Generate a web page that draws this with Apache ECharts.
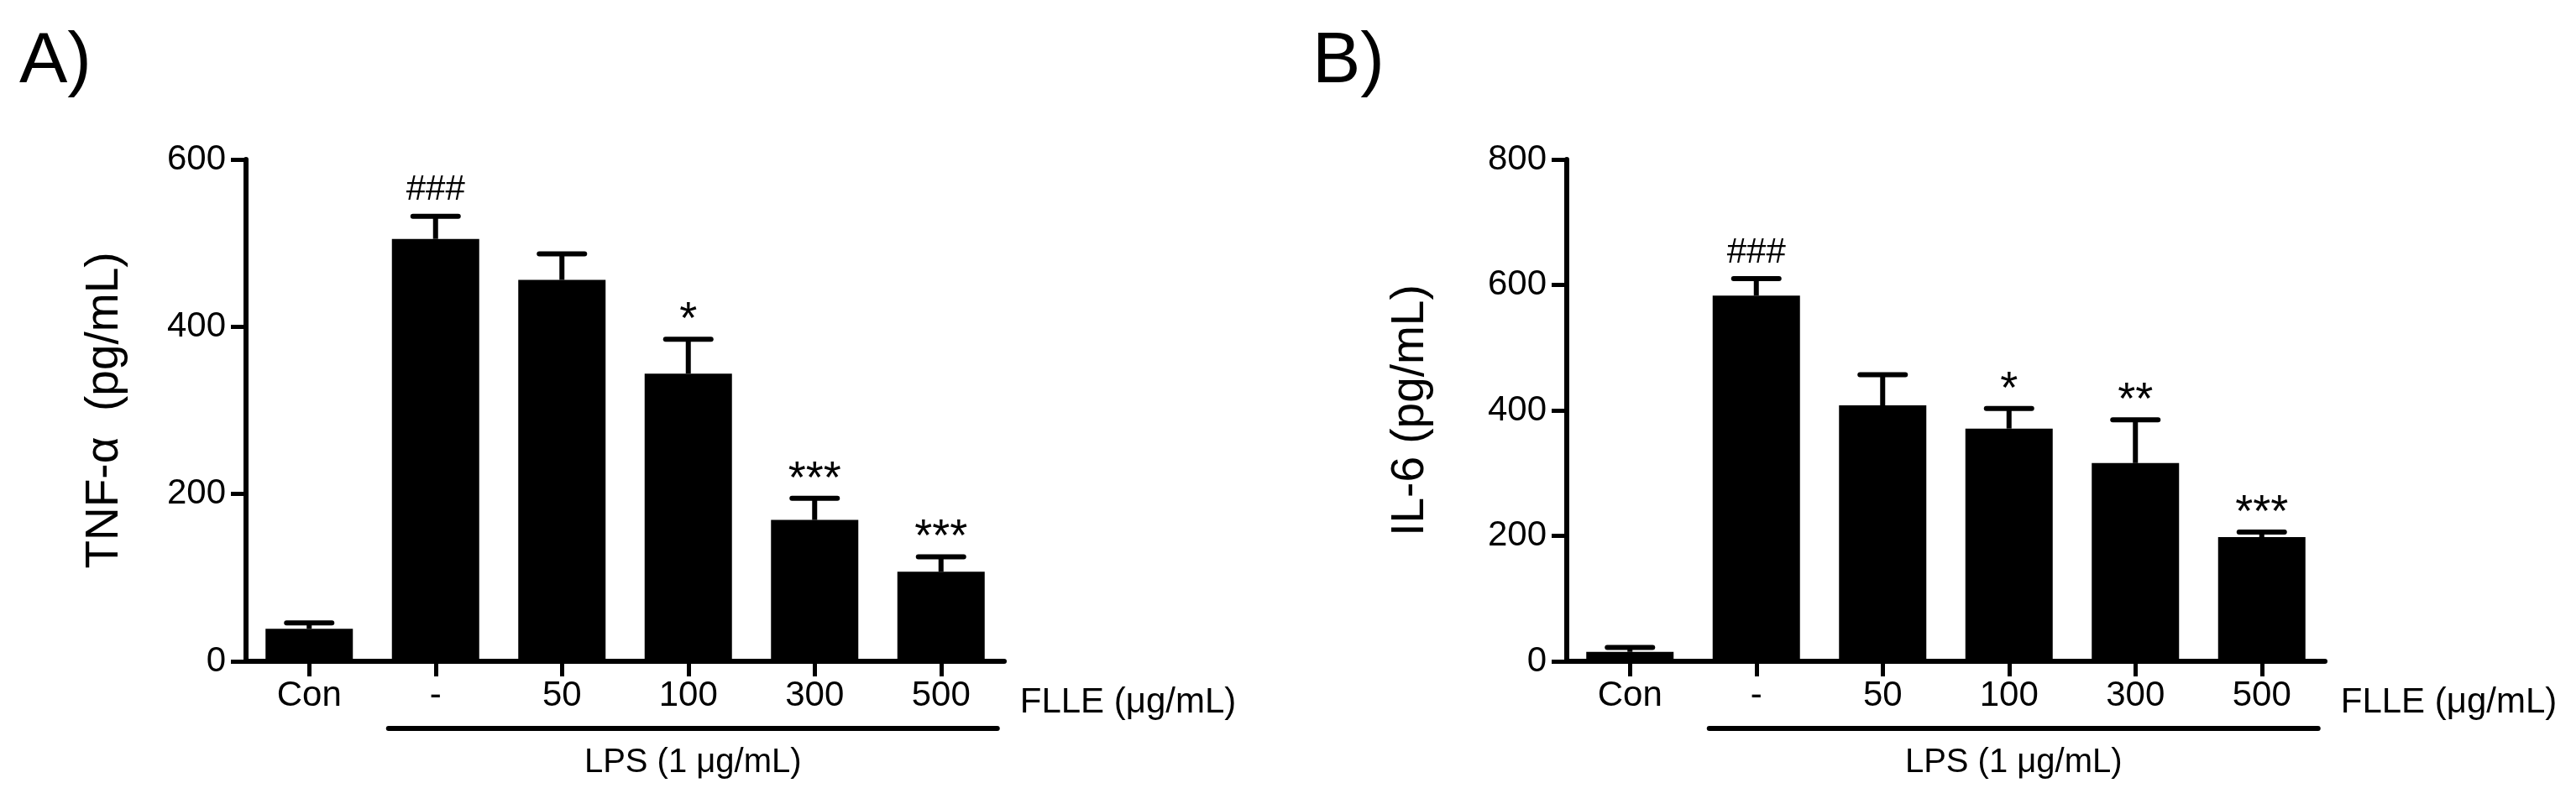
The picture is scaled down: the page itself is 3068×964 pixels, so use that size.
<!DOCTYPE html>
<html>
<head>
<meta charset="utf-8">
<script src="https://cdn.jsdelivr.net/npm/echarts@6/dist/echarts.min.js"></script>
<style>
html, body { margin: 0; padding: 0; background: #fff; }
#chart { width: 3068px; height: 964px; }
</style>
</head>
<body>
<div id="chart"></div>
<script>
// ---- data ----
const categories = ['Con', '-', '50', '100', '300', '500'];
const tnfMean = [39, 505, 456, 344, 169, 107];
const tnfSem  = [7, 27, 31, 41, 26, 18];
const tnfSig  = ['', '###', '', '*', '***', '***'];
const il6Mean = [15, 583, 408, 371, 316, 198];
const il6Sem  = [7, 27, 49, 32, 69, 8];
const il6Sig  = ['', '###', '', '*', '**', '***'];
const tnfAxis = { min: 0, max: 600, interval: 200 };
const il6Axis = { min: 0, max: 800, interval: 200 };
const panelLetters = ['A)', 'B)'];
const yTitles = ['TNF-\u03b1  (pg/mL)', 'IL-6 (pg/mL)'];
const xTitle = 'FLLE (\u03bcg/mL)';
const lpsTitle = 'LPS (1 \u03bcg/mL)';

// ---- style ----
const FONT = '"Liberation Sans", Arial, Helvetica, sans-serif';
const LW = 6;
const BAR_W = 104;

const chart = echarts.init(document.getElementById('chart'), null, { renderer: 'canvas' });

function errRender(sig) {
  return function (params, api) {
    const i = api.value(0), m = api.value(1), s = api.value(2);
    const p0 = api.coord([i, m]);
    const p1 = api.coord([i, m + s]);
    const half = 27;
    const children = [
      { type: 'line', shape: { x1: p0[0], y1: p0[1], x2: p1[0], y2: p1[1] },
        style: { stroke: '#000', lineWidth: LW } },
      { type: 'line', shape: { x1: p1[0] - half, y1: p1[1], x2: p1[0] + half, y2: p1[1] },
        style: { stroke: '#000', lineWidth: LW, lineCap: 'round' } }
    ];
    const lab = sig[params.dataIndex];
    if (lab) {
      const star = lab.indexOf('*') >= 0;
      children.push({ type: 'text', x: p1[0], y: p1[1] - (star ? 22 : 31),
        style: { text: lab, fill: '#000', font: (star ? '54px ' : '42px ') + FONT,
                 align: 'center', verticalAlign: 'middle' } });
    }
    return { type: 'group', children: children };
  };
}

function xAxisDef(gi) {
  return {
    type: 'category', gridIndex: gi, data: categories, boundaryGap: true,
    axisLine: { show: true, lineStyle: { color: '#000', width: LW } },
    axisTick: { show: true, alignWithLabel: true, length: 18, lineStyle: { color: '#000', width: 5 } },
    axisLabel: { color: '#000', fontSize: 42, fontFamily: FONT, margin: 20 },
    splitLine: { show: false }
  };
}
function yAxisDef(gi, ax) {
  return {
    type: 'value', gridIndex: gi, min: ax.min, max: ax.max, interval: ax.interval,
    axisLine: { show: true, lineStyle: { color: '#000', width: LW } },
    axisTick: { show: true, length: 18, lineStyle: { color: '#000', width: 5 } },
    axisLabel: { color: '#000', fontSize: 42, fontFamily: FONT, margin: 24 },
    splitLine: { show: false }
  };
}

const option = {
  backgroundColor: '#fff',
  animation: false,
  grid: [
    { left: 293, top: 190, width: 903, height: 598 },
    { left: 1866, top: 190, width: 903, height: 598 }
  ],
  xAxis: [xAxisDef(0), xAxisDef(1)],
  yAxis: [yAxisDef(0, tnfAxis), yAxisDef(1, il6Axis)],
  series: [
    { type: 'bar', xAxisIndex: 0, yAxisIndex: 0, data: tnfMean, barWidth: BAR_W,
      itemStyle: { color: '#000' }, z: 2 },
    { type: 'custom', xAxisIndex: 0, yAxisIndex: 0, z: 3,
      data: tnfMean.map((v, i) => [i, v, tnfSem[i]]), renderItem: errRender(tnfSig) },
    { type: 'bar', xAxisIndex: 1, yAxisIndex: 1, data: il6Mean, barWidth: BAR_W,
      itemStyle: { color: '#000' }, z: 2 },
    { type: 'custom', xAxisIndex: 1, yAxisIndex: 1, z: 3,
      data: il6Mean.map((v, i) => [i, v, il6Sem[i]]), renderItem: errRender(il6Sig) }
  ]
};
chart.setOption(option);

// ---- annotations placed from the axes ----
const graphics = [];
const yTitleX = [125, 1680];
const letterX = [23, 1563];
[0, 1].forEach(function (gi) {
  const pMinus = chart.convertToPixel({ xAxisIndex: gi, yAxisIndex: gi }, [1, 0]);
  const pLast = chart.convertToPixel({ xAxisIndex: gi, yAxisIndex: gi }, [5, 0]);
  const x1 = pMinus[0] - BAR_W / 2 - 4;
  const x2 = pLast[0] + BAR_W / 2 + 15;
  const axisY = pMinus[1];
  // LPS underline
  graphics.push({ type: 'line', shape: { x1: x1, y1: axisY + 80, x2: x2, y2: axisY + 80 },
    style: { stroke: '#000', lineWidth: LW, lineCap: 'round' } });
  graphics.push({ type: 'text', x: (x1 + x2) / 2, y: axisY + 121,
    style: { text: lpsTitle, fill: '#000', font: '40px ' + FONT, align: 'center', verticalAlign: 'middle' } });
  // FLLE label
  graphics.push({ type: 'text', x: pLast[0] + BAR_W / 2 + 42, y: axisY + 49,
    style: { text: xTitle, fill: '#000', font: '42px ' + FONT, align: 'left', verticalAlign: 'middle' } });
  // y title
  const pTop = chart.convertToPixel({ xAxisIndex: gi, yAxisIndex: gi }, [0, gi === 0 ? tnfAxis.max : il6Axis.max]);
  graphics.push({ type: 'text', x: yTitleX[gi], y: (pTop[1] + axisY) / 2, rotation: Math.PI / 2,
    style: { text: yTitles[gi], fill: '#000', font: '55px ' + FONT, align: 'center', verticalAlign: 'middle' } });
  // panel letter
  graphics.push({ type: 'text', x: letterX[gi], y: 74,
    style: { text: panelLetters[gi], fill: '#000', font: '86px ' + FONT, align: 'left', verticalAlign: 'middle' } });
});
chart.setOption({ graphic: graphics });
</script>
</body>
</html>
